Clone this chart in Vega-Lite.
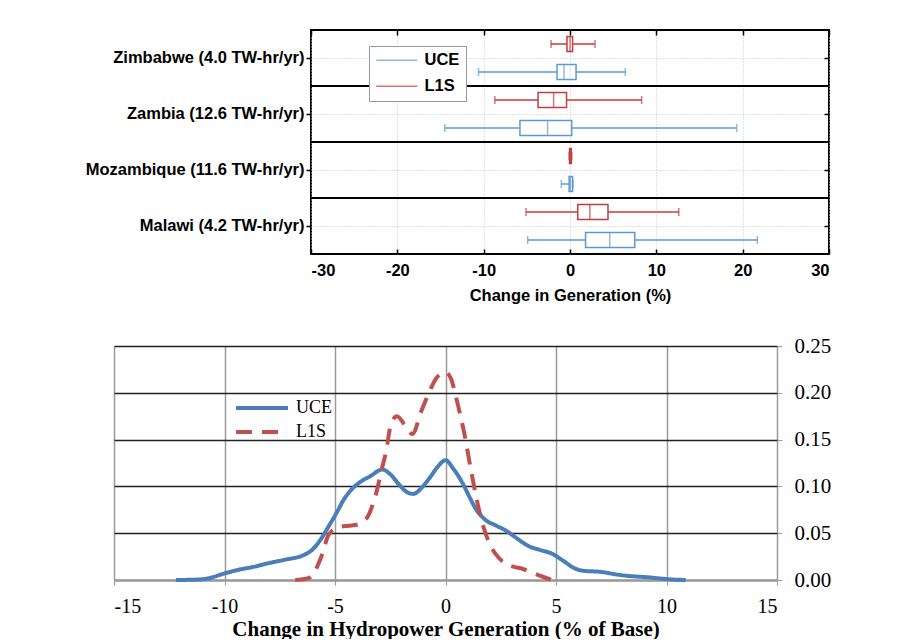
{
  "$schema": "https://vega.github.io/schema/vega-lite/v6.json",
  "autosize": {"type": "pad"},
  "padding": {"left": 75, "top": 28, "right": 5, "bottom": 0},
  "background": "white",
  "spacing": 30,
  "config": {"font": "Liberation Sans"},
  "datasets": {
    "boxes": [
      {"country": "Zimbabwe (4.0 TW-hr/yr)", "scenario": "L1S", "lo": -2.2, "q1": -0.35, "med": 0, "q3": 0.3, "hi": 2.9},
      {"country": "Zimbabwe (4.0 TW-hr/yr)", "scenario": "UCE", "lo": -10.6, "q1": -1.5, "med": -0.7, "q3": 0.7, "hi": 6.4},
      {"country": "Zambia (12.6 TW-hr/yr)", "scenario": "L1S", "lo": -8.7, "q1": -3.7, "med": -1.9, "q3": -0.4, "hi": 8.3},
      {"country": "Zambia (12.6 TW-hr/yr)", "scenario": "UCE", "lo": -14.5, "q1": -5.8, "med": -2.6, "q3": 0.2, "hi": 19.3},
      {"country": "Mozambique (11.6 TW-hr/yr)", "scenario": "L1S", "lo": -0.1, "q1": -0.05, "med": 0.05, "q3": 0.15, "hi": 0.2},
      {"country": "Mozambique (11.6 TW-hr/yr)", "scenario": "UCE", "lo": -1.0, "q1": -0.1, "med": 0.05, "q3": 0.3, "hi": 0.35},
      {"country": "Malawi (4.2 TW-hr/yr)", "scenario": "L1S", "lo": -5.1, "q1": 0.9, "med": 2.3, "q3": 4.4, "hi": 12.6},
      {"country": "Malawi (4.2 TW-hr/yr)", "scenario": "UCE", "lo": -4.9, "q1": 1.8, "med": 4.6, "q3": 7.5, "hi": 21.7}
    ],
    "density": [
      {"scenario": "UCE", "x": -12.2, "y": 0.0},
      {"scenario": "UCE", "x": -11.2, "y": 0.0005},
      {"scenario": "UCE", "x": -10.7, "y": 0.002},
      {"scenario": "UCE", "x": -10.0, "y": 0.007},
      {"scenario": "UCE", "x": -9.35, "y": 0.011},
      {"scenario": "UCE", "x": -8.7, "y": 0.014},
      {"scenario": "UCE", "x": -8.0, "y": 0.018},
      {"scenario": "UCE", "x": -7.2, "y": 0.022},
      {"scenario": "UCE", "x": -6.48, "y": 0.026},
      {"scenario": "UCE", "x": -6.0, "y": 0.033},
      {"scenario": "UCE", "x": -5.6, "y": 0.045},
      {"scenario": "UCE", "x": -5.27, "y": 0.058},
      {"scenario": "UCE", "x": -4.9, "y": 0.073},
      {"scenario": "UCE", "x": -4.6, "y": 0.086},
      {"scenario": "UCE", "x": -4.2, "y": 0.098},
      {"scenario": "UCE", "x": -3.9, "y": 0.104},
      {"scenario": "UCE", "x": -3.4, "y": 0.111},
      {"scenario": "UCE", "x": -2.86, "y": 0.118},
      {"scenario": "UCE", "x": -2.5, "y": 0.113},
      {"scenario": "UCE", "x": -2.1, "y": 0.102},
      {"scenario": "UCE", "x": -1.75, "y": 0.094},
      {"scenario": "UCE", "x": -1.45, "y": 0.092},
      {"scenario": "UCE", "x": -1.1, "y": 0.098},
      {"scenario": "UCE", "x": -0.75, "y": 0.108},
      {"scenario": "UCE", "x": -0.35, "y": 0.121},
      {"scenario": "UCE", "x": 0.0, "y": 0.128},
      {"scenario": "UCE", "x": 0.35, "y": 0.119},
      {"scenario": "UCE", "x": 0.76, "y": 0.104},
      {"scenario": "UCE", "x": 1.1, "y": 0.088},
      {"scenario": "UCE", "x": 1.37, "y": 0.076},
      {"scenario": "UCE", "x": 1.82, "y": 0.064},
      {"scenario": "UCE", "x": 2.3, "y": 0.058},
      {"scenario": "UCE", "x": 2.72, "y": 0.053},
      {"scenario": "UCE", "x": 3.2, "y": 0.045},
      {"scenario": "UCE", "x": 3.78, "y": 0.036},
      {"scenario": "UCE", "x": 4.3, "y": 0.032},
      {"scenario": "UCE", "x": 4.83, "y": 0.028},
      {"scenario": "UCE", "x": 5.3, "y": 0.021},
      {"scenario": "UCE", "x": 5.8, "y": 0.013},
      {"scenario": "UCE", "x": 6.19, "y": 0.010},
      {"scenario": "UCE", "x": 7.1, "y": 0.0085},
      {"scenario": "UCE", "x": 7.7, "y": 0.006},
      {"scenario": "UCE", "x": 8.3, "y": 0.0043},
      {"scenario": "UCE", "x": 9.1, "y": 0.003},
      {"scenario": "UCE", "x": 9.81, "y": 0.0014},
      {"scenario": "UCE", "x": 10.3, "y": 0.0005},
      {"scenario": "UCE", "x": 10.87, "y": 0.0},
      {"scenario": "L1S", "x": -6.8, "y": 0.0},
      {"scenario": "L1S", "x": -6.2, "y": 0.002},
      {"scenario": "L1S", "x": -5.9, "y": 0.01},
      {"scenario": "L1S", "x": -5.65, "y": 0.023},
      {"scenario": "L1S", "x": -5.27, "y": 0.049},
      {"scenario": "L1S", "x": -4.82, "y": 0.0565},
      {"scenario": "L1S", "x": -4.4, "y": 0.058},
      {"scenario": "L1S", "x": -4.0, "y": 0.059},
      {"scenario": "L1S", "x": -3.54, "y": 0.067},
      {"scenario": "L1S", "x": -3.3, "y": 0.08},
      {"scenario": "L1S", "x": -3.09, "y": 0.097},
      {"scenario": "L1S", "x": -2.9, "y": 0.117},
      {"scenario": "L1S", "x": -2.7, "y": 0.136},
      {"scenario": "L1S", "x": -2.48, "y": 0.165},
      {"scenario": "L1S", "x": -2.2, "y": 0.175},
      {"scenario": "L1S", "x": -1.85, "y": 0.166},
      {"scenario": "L1S", "x": -1.5, "y": 0.156},
      {"scenario": "L1S", "x": -1.1, "y": 0.18},
      {"scenario": "L1S", "x": -0.75, "y": 0.2},
      {"scenario": "L1S", "x": -0.4, "y": 0.216},
      {"scenario": "L1S", "x": 0.0, "y": 0.222},
      {"scenario": "L1S", "x": 0.25, "y": 0.215},
      {"scenario": "L1S", "x": 0.46, "y": 0.197},
      {"scenario": "L1S", "x": 0.65, "y": 0.178},
      {"scenario": "L1S", "x": 0.84, "y": 0.158},
      {"scenario": "L1S", "x": 1.14, "y": 0.119},
      {"scenario": "L1S", "x": 1.44, "y": 0.083},
      {"scenario": "L1S", "x": 1.74, "y": 0.055},
      {"scenario": "L1S", "x": 2.12, "y": 0.033},
      {"scenario": "L1S", "x": 2.4, "y": 0.024},
      {"scenario": "L1S", "x": 2.72, "y": 0.0174},
      {"scenario": "L1S", "x": 3.1, "y": 0.014},
      {"scenario": "L1S", "x": 3.48, "y": 0.012},
      {"scenario": "L1S", "x": 3.9, "y": 0.008},
      {"scenario": "L1S", "x": 4.23, "y": 0.005},
      {"scenario": "L1S", "x": 4.83, "y": 0.0}
    ]
  },
  "vconcat": [
    {
      "bounds": "flush",
      "spacing": 0,
      "hconcat": [
        {
          "width": 197,
          "height": 10,
          "view": {"stroke": null},
          "data": {"values": []},
          "mark": {"type": "point", "opacity": 0},
          "encoding": {}
        },
        {
          "width": 518,
          "height": 224,
          "view": {"stroke": "black", "strokeWidth": 2},
          "data": {"name": "boxes"},
          "layer": [
            {
              "mark": {"type": "rule", "strokeWidth": 1.5},
              "encoding": {
                "y": {"field": "country", "type": "nominal", "sort": ["Zimbabwe (4.0 TW-hr/yr)", "Zambia (12.6 TW-hr/yr)", "Mozambique (11.6 TW-hr/yr)", "Malawi (4.2 TW-hr/yr)"], "scale": {"paddingInner": 0, "paddingOuter": 0},
                  "axis": {"title": null, "labelFont": "Liberation Sans", "labelFontWeight": "bold", "labelFontSize": 16.5, "labelColor": "black", "labelPadding": 2, "labelLimit": 400, "tickSize": 5, "tickColor": "black", "tickWidth": 1.5, "domain": false, "grid": true, "gridDash": [1, 2], "gridColor": "#c4c4c4", "minExtent": 235, "maxExtent": 235}},
                "yOffset": {"field": "scenario", "type": "nominal", "sort": ["L1S", "UCE"], "scale": {"paddingInner": 0, "paddingOuter": 0}},
                "x": {"field": "lo", "type": "quantitative", "scale": {"domain": [-30, 30], "nice": false},
                  "axis": {"values": [-30, -20, -10, 0, 10, 20, 30], "labelExpr": "'' + datum.value", "grid": true, "gridDash": [1, 2], "gridColor": "#c4c4c4", "domain": false, "ticks": true, "tickSize": -5, "tickColor": "black", "tickWidth": 1.5, "labelFont": "Liberation Sans", "labelFontWeight": "bold", "labelFontSize": 16.5, "labelColor": "black", "labelPadding": 13, "title": "Change in Generation (%)", "titleFont": "Liberation Sans", "titleFontWeight": "bold", "titleFontSize": 16.5, "titleColor": "black", "titlePadding": 9}},
                "x2": {"field": "q1"},
                "color": {"field": "scenario", "type": "nominal", "scale": {"domain": ["UCE", "L1S"], "range": ["#5b9bd5", "#c63b3d"]},
                  "legend": {"title": null, "orient": "none", "legendX": 255, "legendY": 16, "symbolType": "M-1,0H4.86", "symbolSize": 196, "symbolStrokeWidth": 1.5, "labelOffset": 33, "labelFont": "Liberation Sans", "labelFontWeight": "bold", "labelFontSize": 16.5, "labelColor": "black", "padding": 6, "rowPadding": 9, "fillColor": "white", "strokeColor": "#9a9a9a"}}
              }
            },
            {
              "mark": {"type": "rule", "strokeWidth": 1.5},
              "encoding": {
                "y": {"field": "country", "type": "nominal", "sort": ["Zimbabwe (4.0 TW-hr/yr)", "Zambia (12.6 TW-hr/yr)", "Mozambique (11.6 TW-hr/yr)", "Malawi (4.2 TW-hr/yr)"],
                  "axis": {"orient": "right", "title": null, "labels": false, "domain": false, "grid": false, "ticks": true, "tickSize": -5, "tickColor": "black", "tickWidth": 1.5}},
                "yOffset": {"field": "scenario", "type": "nominal", "sort": ["L1S", "UCE"]},
                "x": {"field": "q3", "type": "quantitative",
                  "axis": {"orient": "top", "values": [-30, -20, -10, 0, 10, 20, 30], "title": null, "labels": false, "domain": false, "grid": false, "ticks": true, "tickSize": -5, "tickColor": "black", "tickWidth": 1.5}},
                "x2": {"field": "hi"},
                "color": {"field": "scenario", "type": "nominal"}
              }
            },
            {
              "mark": {"type": "tick", "size": 8, "thickness": 1.5},
              "encoding": {
                "y": {"field": "country", "type": "nominal", "sort": ["Zimbabwe (4.0 TW-hr/yr)", "Zambia (12.6 TW-hr/yr)", "Mozambique (11.6 TW-hr/yr)", "Malawi (4.2 TW-hr/yr)"], "axis": null},
                "yOffset": {"field": "scenario", "type": "nominal", "sort": ["L1S", "UCE"]},
                "x": {"field": "lo", "type": "quantitative", "axis": null},
                "color": {"field": "scenario", "type": "nominal"}
              }
            },
            {
              "mark": {"type": "tick", "size": 8, "thickness": 1.5},
              "encoding": {
                "y": {"field": "country", "type": "nominal", "sort": ["Zimbabwe (4.0 TW-hr/yr)", "Zambia (12.6 TW-hr/yr)", "Mozambique (11.6 TW-hr/yr)", "Malawi (4.2 TW-hr/yr)"], "axis": null},
                "yOffset": {"field": "scenario", "type": "nominal", "sort": ["L1S", "UCE"]},
                "x": {"field": "hi", "type": "quantitative", "axis": null},
                "color": {"field": "scenario", "type": "nominal"}
              }
            },
            {
              "mark": {"type": "bar", "size": 15, "filled": false, "strokeWidth": 1.5},
              "encoding": {
                "y": {"field": "country", "type": "nominal", "sort": ["Zimbabwe (4.0 TW-hr/yr)", "Zambia (12.6 TW-hr/yr)", "Mozambique (11.6 TW-hr/yr)", "Malawi (4.2 TW-hr/yr)"], "axis": null},
                "yOffset": {"field": "scenario", "type": "nominal", "sort": ["L1S", "UCE"]},
                "x": {"field": "q1", "type": "quantitative", "axis": null},
                "x2": {"field": "q3"},
                "color": {"field": "scenario", "type": "nominal"}
              }
            },
            {
              "mark": {"type": "tick", "size": 15, "thickness": 1.5},
              "encoding": {
                "y": {"field": "country", "type": "nominal", "sort": ["Zimbabwe (4.0 TW-hr/yr)", "Zambia (12.6 TW-hr/yr)", "Mozambique (11.6 TW-hr/yr)", "Malawi (4.2 TW-hr/yr)"], "axis": null},
                "yOffset": {"field": "scenario", "type": "nominal", "sort": ["L1S", "UCE"]},
                "x": {"field": "med", "type": "quantitative", "axis": null},
                "color": {"field": "scenario", "type": "nominal"}
              }
            },
            {
              "transform": [{"filter": "datum.scenario == 'UCE' && datum.country != 'Zimbabwe (4.0 TW-hr/yr)'"}],
              "mark": {"type": "rule", "color": "black", "strokeWidth": 2},
              "encoding": {
                "y": {"field": "country", "type": "nominal", "bandPosition": 0, "sort": ["Zimbabwe (4.0 TW-hr/yr)", "Zambia (12.6 TW-hr/yr)", "Mozambique (11.6 TW-hr/yr)", "Malawi (4.2 TW-hr/yr)"], "axis": null}
              }
            }
          ],
          "resolve": {"axis": {"x": "independent", "y": "independent"}}
        }
      ]
    },
    {
      "width": 663,
      "height": 234,
      "view": {"stroke": null},
      "data": {"name": "density"},
      "mark": {"type": "line", "interpolate": "monotone", "strokeWidth": 4},
      "encoding": {
        "x": {"field": "x", "type": "quantitative", "scale": {"domain": [-15, 15], "nice": false},
          "axis": {"values": [-15, -10, -5, 0, 5, 10, 15], "labelExpr": "'' + datum.value", "grid": true, "gridColor": "#9a9a9a", "gridWidth": 1.5, "domain": true, "domainColor": "#9a9a9a", "domainWidth": 2.5, "ticks": true, "tickColor": "#9a9a9a", "tickSize": 5, "labelPadding": 11, "labelFont": "Liberation Serif", "labelFontSize": 20, "labelColor": "black", "title": "Change in Hydropower Generation (% of Base)", "titleFont": "Liberation Serif", "titleFontSize": 21, "titleFontWeight": "bold", "titleColor": "black", "titlePadding": 2}},
        "y": {"field": "y", "type": "quantitative", "scale": {"domain": [0, 0.25], "nice": false},
          "axis": {"orient": "right", "values": [0, 0.05, 0.1, 0.15, 0.2, 0.25], "format": ".2f", "grid": true, "gridColor": {"condition": {"test": "datum.value === 0", "value": "#9a9a9a"}, "value": "#222222"}, "gridWidth": 1.5, "domain": false, "ticks": true, "tickColor": "#9a9a9a", "tickSize": 5, "labelPadding": 12, "labelFont": "Liberation Serif", "labelFontSize": 21, "labelColor": "black", "title": null}},
        "color": {"field": "scenario", "type": "nominal", "scale": {"domain": ["UCE", "L1S"], "range": ["#4a7ebb", "#c0504d"]},
          "legend": {"title": null, "orient": "none", "legendX": 120, "legendY": 50, "symbolType": "M-1,0H4.2", "symbolSize": 400, "symbolStrokeWidth": 4, "labelOffset": 38, "labelFont": "Liberation Serif", "labelFontSize": 18, "labelColor": "black", "padding": 0, "rowPadding": 3}},
        "strokeDash": {"field": "scenario", "type": "nominal", "scale": {"domain": ["UCE", "L1S"], "range": [[1, 0], [16, 10]]},
          "legend": {"title": null, "orient": "none", "legendX": 120, "legendY": 50, "symbolType": "M-1,0H4.2", "symbolSize": 400, "symbolStrokeWidth": 4, "labelOffset": 38, "labelFont": "Liberation Serif", "labelFontSize": 18, "labelColor": "black", "padding": 0, "rowPadding": 3}}
      }
    }
  ],
  "resolve": {"scale": {"color": "independent", "strokeDash": "independent"}, "legend": {"color": "independent", "strokeDash": "independent"}}
}
